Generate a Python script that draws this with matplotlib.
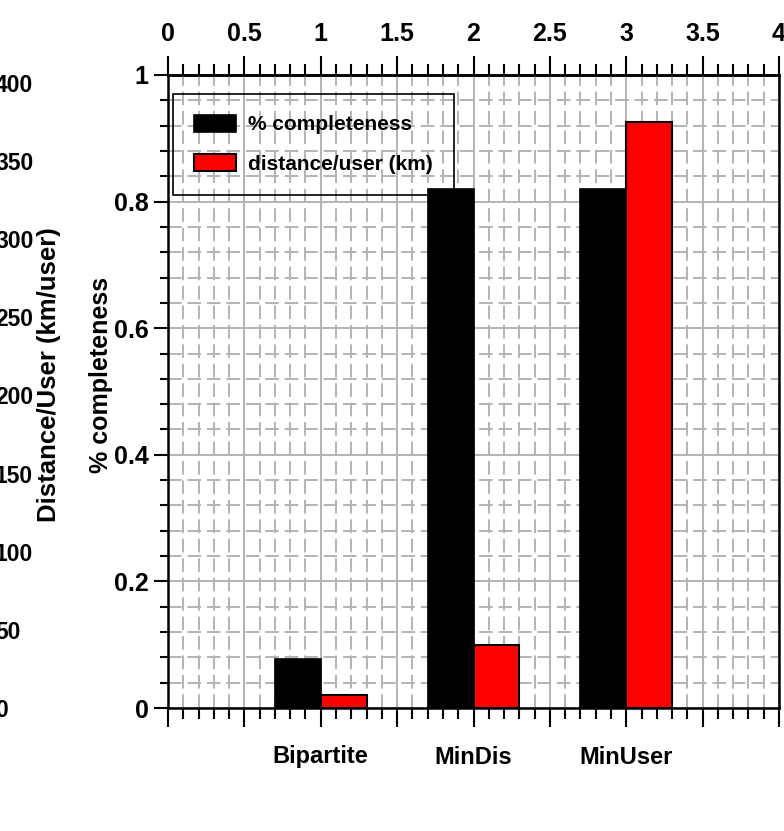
import numpy as np
import matplotlib
matplotlib.use("Agg")
import matplotlib.pyplot as plt
from matplotlib.ticker import MultipleLocator

# --- data -------------------------------------------------------------
methods = ["Bipartite", "MinDis", "MinUser"]
positions = [1, 2, 3]
completeness = [0.077, 0.82, 0.82]          # fraction of requests completed
distance_km = [8, 40, 375]                  # distance travelled per user (km)

top_ticks = [0, 0.5, 1, 1.5, 2, 2.5, 3, 3.5, 4]
top_labels = ["0", "0.5", "1", "1.5", "2", "2.5", "3", "3.5", "4"]
comp_ticks = [0, 0.2, 0.4, 0.6, 0.8, 1]
comp_labels = ["0", "0.2", "0.4", "0.6", "0.8", "1"]
dist_ticks = [0, 50, 100, 150, 200, 250, 300, 350, 400]
dist_labels = ["0", "50", "100", "150", "200", "250", "300", "350", "400"]

# --- style ------------------------------------------------------------
FONT = ["Liberation Sans", "DejaVu Sans"]
plt.rcParams["font.family"] = FONT
plt.rcParams["font.weight"] = "bold"
GRID = "#b3b3b3"
W, H = 784, 831
TICK_FS = 18

fig = plt.figure(figsize=(W / 100, H / 100), dpi=100)
L, R, T, B = 168, 779, 75, 708
ax = fig.add_axes([L / W, (H - B) / H, (R - L) / W, (B - T) / H])

bar_w = 0.3
xs = np.array(positions, dtype=float)
ax.bar(xs - bar_w / 2, completeness, width=bar_w, color="black",
       edgecolor="black", linewidth=1.2, label="% completeness", zorder=3)

ax.set_xlim(0, 4)
ax.set_ylim(0, 1)

# bottom axis: method names at integer positions
bottom_labels = []
for t in top_ticks:
    if t in positions:
        bottom_labels.append(methods[positions.index(t)])
    else:
        bottom_labels.append("")
ax.set_xticks(top_ticks)
ax.set_xticklabels(bottom_labels, fontsize=17, fontweight="bold")
ax.xaxis.set_minor_locator(MultipleLocator(0.1))
ax.set_yticks(comp_ticks)
ax.set_yticklabels(comp_labels, fontsize=TICK_FS, fontweight="bold")
ax.yaxis.set_minor_locator(MultipleLocator(0.04))

ax.tick_params(axis="x", which="major", direction="out", length=14, width=1.5,
               pad=13, bottom=True, top=False)
ax.tick_params(axis="x", which="minor", direction="out", length=8, width=1.5,
               bottom=True, top=False)
ax.tick_params(axis="y", which="major", direction="out", length=10, width=1.5,
               pad=4, left=True, right=True)
ax.tick_params(axis="y", which="minor", direction="out", length=6, width=1.5,
               left=True, right=True)
for s in ax.spines.values():
    s.set_linewidth(1.8)

ax.set_axisbelow(True)
ax.grid(True, which="major", color=GRID, linestyle="-", linewidth=1.4)
ax.grid(True, which="minor", color=GRID, linestyle=(0, (7, 3)), linewidth=1.4)

ax.set_ylabel("% completeness", fontsize=18, fontweight="bold")
ax.yaxis.set_label_coords((113 - L) / (R - L), (B - 375) / (B - T))

# top axis with numeric positions
top = ax.secondary_xaxis("top")
top.set_xticks(top_ticks)
top.set_xticklabels(top_labels, fontsize=TICK_FS, fontweight="bold")
top.xaxis.set_minor_locator(MultipleLocator(0.1))
top.tick_params(which="major", direction="out", length=14, width=1.5, pad=7)
top.tick_params(which="minor", direction="out", length=8, width=1.5)
top.spines["top"].set_linewidth(1.8)

# distance axis, drawn far to the left
ax2 = ax.twinx()
ax2.bar(xs + bar_w / 2, distance_km, width=bar_w, color="#ff0000",
        edgecolor="black", linewidth=1.5, label="distance/user (km)", zorder=3)
ax2.set_ylim(0, 405)
ax2.yaxis.set_ticks_position("left")
ax2.yaxis.set_label_position("left")
ax2.spines["left"].set_position(("outward", (L + 5) * 72 / 100))
for k in ("left", "right", "top", "bottom"):
    ax2.spines[k].set_visible(False)
ax2.set_yticks(dist_ticks)
ax2.set_yticklabels(dist_labels, fontsize=16.5, fontweight="bold")
ax2.tick_params(axis="y", length=0, pad=0)
for t in ax2.get_yticklabels():
    t.set_horizontalalignment("left")
ax2.set_ylabel("Distance/User (km/user)", fontsize=18.5, fontweight="bold")
ax2.yaxis.set_label_coords((61 - L) / (R - L), (B - 375) / (B - T))

# legend combining both series
h1, l1 = ax.get_legend_handles_labels()
h2, l2 = ax2.get_legend_handles_labels()
leg = ax2.legend(h1 + h2, l1 + l2, loc="upper left",
                 bbox_to_anchor=((173 - L) / (R - L), (B - 94) / (B - T)),
                 borderaxespad=0, fancybox=False, framealpha=1,
                 facecolor="none", edgecolor="black",
                 handlelength=2.0, handleheight=0.87, handletextpad=0.6,
                 borderpad=1.0, labelspacing=0.95,
                 prop={"family": FONT, "weight": "bold", "size": 15})
leg.get_frame().set_linewidth(1.2)

fig.savefig("out.png", dpi=100)
